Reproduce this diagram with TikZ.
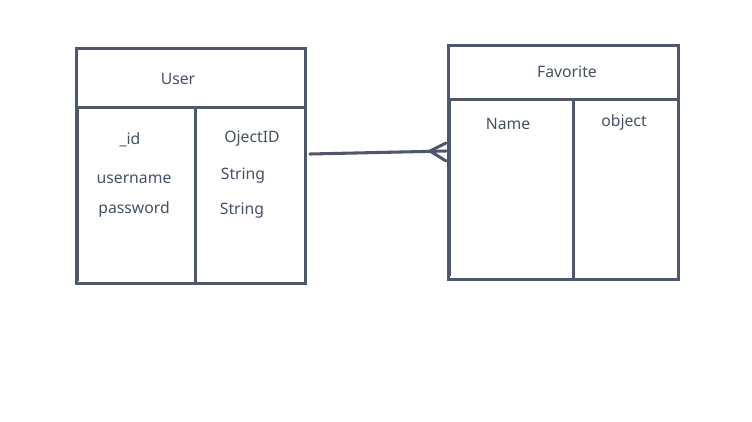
\documentclass[tikz,border=0pt]{standalone}
\usepackage{fontspec}
\setmainfont{Noto Sans}
\definecolor{ink}{HTML}{4F586A}
\definecolor{txt}{HTML}{465064}
\tikzset{
  cell/.style={draw=ink, line width=2.3pt, rectangle, inner sep=0pt, anchor=north west},
  lbl/.style={text=txt, font=\fontsize{11.8}{13}\selectfont, inner sep=0pt, yshift=-1.2pt},
  conn/.style={draw=ink, line width=2.3pt, line cap=round}
}
\begin{document}
\begin{tikzpicture}[x=0.75pt,y=-0.75pt]
\useasboundingbox (0,0) rectangle (752,421);
% User table
\node[cell, minimum width=229*0.75pt, minimum height=59*0.75pt] (uhead) at (75,47) {};
\node[cell, minimum width=119*0.75pt, minimum height=176*0.75pt] (ucol1) at (75,106) {};
\node[cell, minimum width=110*0.75pt, minimum height=176*0.75pt] (ucol2) at (194,106) {};
\draw[draw=ink, line width=1.4pt] (78.5,108) -- (78.5,281);
\node[lbl] (uname) at (178,77) {User};
\node[lbl] (f1) at (130,138) {\_id};
\node[lbl] (f2) at (134,178) {username};
\node[lbl] (f3) at (134,208) {password};
\node[lbl] (t1) at (252,137) {OjectID};
\node[lbl] (t2) at (243,174) {String};
\node[lbl] (t3) at (242,209) {String};
% Favorite table
\node[cell, minimum width=230*0.75pt, minimum height=54*0.75pt] (fhead) at (447,44) {};
\node[cell, minimum width=125*0.75pt, minimum height=180*0.75pt] (fcol1) at (447,98) {};
\node[cell, minimum width=105*0.75pt, minimum height=180*0.75pt] (fcol2) at (572,98) {};
\draw[draw=ink, line width=1.4pt] (450.5,100) -- (450.5,276);
\node[lbl] (fname) at (567,70) {Favorite};
\node[lbl] (g1) at (508,122) {Name};
\node[lbl] (g2) at (624,121) {object};
% connector with crow's foot
\coordinate (cs) at (310,154);
\coordinate (ce) at (446,151);
\coordinate (cf) at (430,151);
\coordinate (cu) at (446,143);
\coordinate (cd) at (446,161);
\draw[conn] (cs) -- (ce);
\draw[conn] (cu) -- (cf) -- (cd);
\end{tikzpicture}
\end{document}
